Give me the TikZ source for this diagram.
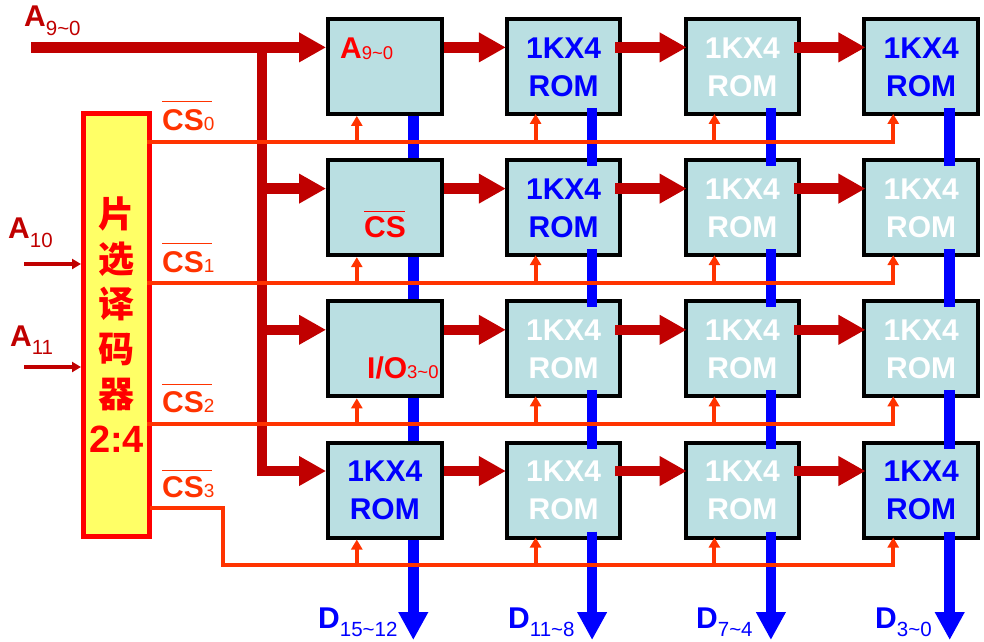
\documentclass[tikz,border=0pt]{standalone}
\usepackage{fontspec}
\setmainfont{Liberation Sans}
\newfontfamily\cjkfont{Noto Sans CJK SC}
\usetikzlibrary{matrix,arrows.meta}
\definecolor{ChipColor}{RGB}{186,223,226}
\definecolor{DecoderColor}{RGB}{255,255,102}
\definecolor{BusColor}{RGB}{192,0,0}
\definecolor{SelectColor}{RGB}{255,51,0}
\definecolor{DataColor}{RGB}{0,0,255}

% big letter followed by a lowered index
\newcommand{\sublabel}[4][20.5]{#2\raisebox{-#4pt}{\mdseries\fontsize{#1}{20}\selectfont #3}}
% CS with its bar: bar width, bar height
\newcommand{\csbar}[2]{\makebox[0pt][l]{\raisebox{#2pt}{\rule{#1pt}{1pt}}}CS}
\newcommand{\rom}{\begin{tabular}{@{}c@{}}\rule{0pt}{32.6pt}1KX4\\ROM\end{tabular}}

\begin{document}
\begin{tikzpicture}[x=1pt, y=-1pt, font=\fontsize{30}{38}\selectfont\bfseries,
    array/.style={matrix of nodes, inner sep=0pt,
    nodes={draw, line width=4pt, fill=ChipColor, text=DataColor, inner sep=0pt, anchor=center,
    minimum width=113.5pt, minimum height=95pt},
    column sep=61.3pt,
    row sep=42.2pt,
    nodes in empty cells},
    blank/.style={text=white},
    decoder/.style={draw=red, line width=5pt, fill=DecoderColor, text=red, inner sep=0pt,
    minimum width=66pt, minimum height=423pt, align=center,
    font=\cjkfont\bfseries\fontsize{36}{45}\selectfont},
    textlabel/.style={anchor=base west, inner sep=0pt},
    busline/.style={draw=BusColor, line width=10.5pt, -{Triangle[length=27pt, width=28pt]}},
    inline/.style={draw=BusColor, line width=3.5pt, -{Triangle[length=9pt, width=10pt]}},
    dataline/.style={draw=DataColor, line width=10.5pt},
    dataout/.style={draw=DataColor, line width=10.5pt, -{Triangle[length=28pt, width=28pt]}},
    selectpin/.style={draw=SelectColor, line width=4pt, -{Triangle[length=10pt, width=11pt]}}]

    \useasboundingbox (0,0) rectangle (984,641);

    \matrix[array] (Chips) at (653,278.2) {
        {} & \rom & |[blank]| \rom & \rom \\
        {} & \rom & |[blank]| \rom & |[blank]| \rom \\
        {} & |[blank]| \rom & |[blank]| \rom & |[blank]| \rom \\
        \rom & |[blank]| \rom & |[blank]| \rom & \rom \\
    };

    \node[decoder] (Decoder) at (116.5,325) {片\\选\\译\\码\\器\\
        \rmfamily\fontsize{38}{45}\selectfont 2:4};

    % address bus
    \foreach \r in {1,2,3,4}
    \coordinate (Pin\r) at ([yshift=19pt]Chips-\r-1.west);
    \coordinate (BusIn) at (31,0 |- Pin1);
    \coordinate (BusTurn) at (262,0 |- Pin1);
    \draw[busline] (BusIn) -- (Pin1);
    \draw[busline] (BusTurn) |- (Pin4);
    \foreach \r in {2,3}
    \draw[busline] (BusTurn |- Pin\r) -- (Pin\r);

    % address bus between the chips
    \foreach \r in {1,2,3,4} {
        \draw[busline] ([yshift=19pt]Chips-\r-1.east) -- ([yshift=19pt, xshift=1pt]Chips-\r-2.west);
        \foreach \from/\to in {2/3, 3/4}
        \draw[busline] ([yshift=19pt, xshift=-7pt]Chips-\r-\from.east) -- ([yshift=19pt, xshift=3pt]Chips-\r-\to.west);
    }

    % data lines
    \foreach \from/\to in {1/2, 2/3, 3/4} {
        \draw[dataline] ([xshift=28.5pt]Chips-\from-1.south) -- ([xshift=28.5pt]Chips-\to-1.north);
        \foreach \c in {2,3,4}
        \draw[dataline] ([xshift=28.5pt, yshift=8pt]Chips-\from-\c.south) -- ([xshift=28.5pt, yshift=-8pt]Chips-\to-\c.north);
    }
    \coordinate (DataEnd) at (0,640);
    \draw[dataout] ([xshift=28.5pt]Chips-4-1.south) -- ([xshift=28.5pt]Chips-4-1.south |- DataEnd);
    \foreach \c in {2,3,4}
    \draw[dataout] ([xshift=28.5pt, yshift=8pt]Chips-4-\c.south) -- ([xshift=28.5pt]Chips-4-\c.south |- DataEnd);

    % select lines
    \coordinate (Sel1) at (147,141.5);
    \coordinate (Sel2) at (147,283);
    \coordinate (Sel3) at (147,424);
    \coordinate (Sel4) at (150,508);
    \coordinate (SelBend) at (222.5,565);
    \foreach \r in {1,2,3}
    \draw[selectpin] (Sel\r) -| ([xshift=-28pt, yshift=2pt]Chips-\r-4.south);
    \draw[selectpin] (Sel4) -| (SelBend) -| ([xshift=-28pt, yshift=2pt]Chips-4-4.south);
    \foreach \r/\line in {1/Sel1, 2/Sel2, 3/Sel3, 4/SelBend} {
        \draw[selectpin] ([xshift=-28pt]Chips-\r-1.south |- \line) -- ([xshift=-28pt]Chips-\r-1.south);
        \foreach \c in {2,3}
        \draw[selectpin] ([xshift=-28pt]Chips-\r-\c.south |- \line) -- ([xshift=-28pt, yshift=2pt]Chips-\r-\c.south);
    }

    % inputs of the decoder
    \coordinate (A10In) at (24,264);
    \coordinate (A11In) at (24,367);
    \draw[inline] (A10In) -- (Decoder.west |- A10In);
    \draw[inline] (A11In) -- (Decoder.west |- A11In);

    \node[textlabel, text=BusColor] (A90Label) at (24,26) {\sublabel{A}{9\textasciitilde0}{9}};
    \node[textlabel, text=BusColor] (A10Label) at (8,238) {\sublabel{A}{10}{9}};
    \node[textlabel, text=BusColor] (A11Label) at (10,346) {\sublabel{A}{11}{8}};

    \node[textlabel, text=SelectColor] (CS0Label) at (162,130) {\csbar{50}{28}\sublabel[19]{}{0}{0}};
    \node[textlabel, text=SelectColor] (CS1Label) at (162,272) {\csbar{50}{28}\sublabel[19]{}{1}{0}};
    \node[textlabel, text=SelectColor] (CS2Label) at (162,412) {\csbar{50}{27}\sublabel[19]{}{2}{0}};
    \node[textlabel, text=SelectColor] (CS3Label) at (162,497) {\csbar{50}{26}\sublabel[19]{}{3}{0}};

    \node[textlabel, text=red] (ChipA) at (340,58) {\sublabel[18.5]{A}{9\textasciitilde0}{1}};
    \node[textlabel, text=red] (ChipCS) at (364,237) {\csbar{41}{25}};
    \node[textlabel, text=red] (ChipIO) at (367,378) {\sublabel[18.5]{I/O}{3\textasciitilde0}{0}};

    \foreach \name/\x/\idx in {D15/318/15\textasciitilde12, D11/508/11\textasciitilde8,
        D7/696/7\textasciitilde4, D3/875/3\textasciitilde0}
    \node[textlabel, text=DataColor] (\name Label) at (\x,628) {\sublabel{D}{\idx}{8}};

\end{tikzpicture}
\end{document}
